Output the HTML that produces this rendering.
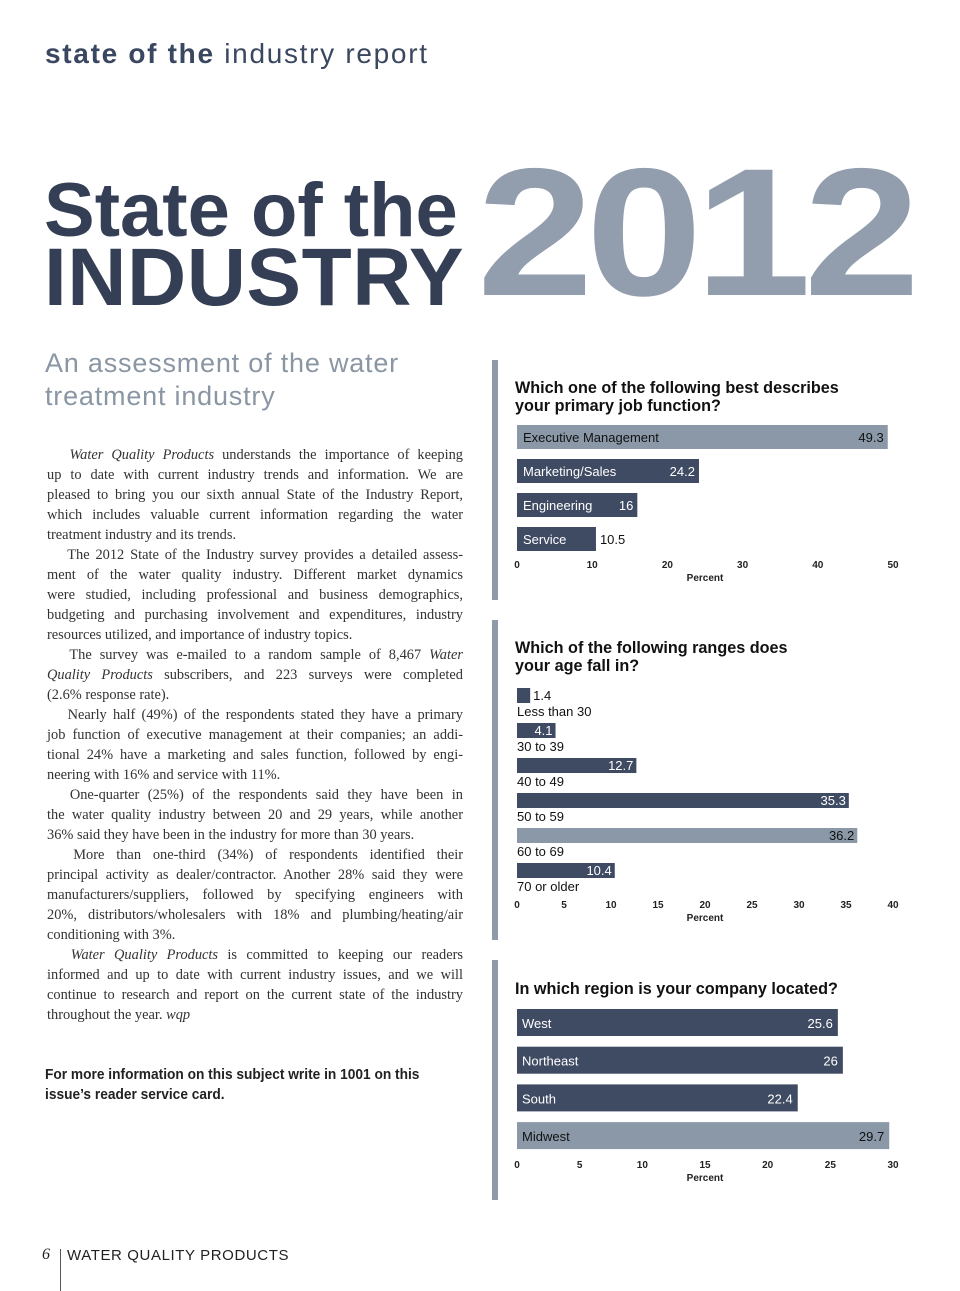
<!DOCTYPE html>
<html><head><meta charset="utf-8">
<style>
*{margin:0;padding:0;box-sizing:border-box}
body{width:960px;height:1291px;position:relative;background:#fff;overflow:hidden;font-family:"Liberation Sans",sans-serif;color:#222}
.abs{position:absolute;white-space:nowrap}
.bl{position:absolute;left:47px;width:416px;font-family:"Liberation Serif",serif;font-size:14.4px;color:#333;white-space:nowrap;line-height:20px}
.j{text-align:justify;text-align-last:justify}
.vbar{position:absolute;left:492px;width:6px;background:#8e9aa8}
</style></head><body>
<div class="abs" style="left:45px;top:38px;font-size:28px;color:#3a4760;letter-spacing:1.7px"><b>state of the</b> industry report</div>
<div class="abs" style="left:44px;top:166px;font-size:76px;font-weight:bold;color:#343e55;line-height:90px">State of the</div>
<div class="abs" style="left:44px;top:230px;font-size:82px;font-weight:bold;color:#343e55;line-height:96px;letter-spacing:0.5px">INDUSTRY</div>
<div class="abs" style="left:477px;top:141px;font-size:182px;font-weight:bold;color:#929eae;line-height:1;letter-spacing:-6.5px;transform:scaleX(1.15);transform-origin:left">2012</div>
<div class="abs" style="left:45px;top:347px;font-size:27px;color:#8a96a3;line-height:33px;letter-spacing:0.8px">An assessment of the water<br>treatment industry</div>

<div id="body"></div>

<div class="abs" style="left:45px;top:1065px;font-size:15px;font-weight:bold;line-height:20px;color:#222;transform:scaleX(0.915);transform-origin:left">For more information on this subject write in 1001 on this<br>issue’s reader service card.</div>

<div class="abs" style="left:42px;top:1246px;font-family:'Liberation Serif',serif;font-style:italic;font-size:16px">6</div>
<div class="abs" style="left:60px;top:1249px;width:1px;height:42px;background:#555"></div>
<div class="abs" style="left:67px;top:1247px;font-size:15px;letter-spacing:0.6px;color:#222">WATER QUALITY PRODUCTS</div>

<div class="vbar" style="top:360px;height:240px"></div>
<div class="vbar" style="top:620px;height:320px"></div>
<div class="vbar" style="top:960px;height:240px"></div>

<svg id="charts" width="960" height="1291" style="position:absolute;left:0;top:0" font-family="Liberation Sans, sans-serif"></svg>

<script>
const jobCategories=["Executive Management","Marketing/Sales","Engineering","Service"];
const jobValues=[49.3,24.2,16,10.5];
const jobTicks=[0,10,20,30,40,50];
const ageCategories=["Less than 30","30 to 39","40 to 49","50 to 59","60 to 69","70 or older"];
const ageValues=[1.4,4.1,12.7,35.3,36.2,10.4];
const ageTicks=[0,5,10,15,20,25,30,35,40];
const regionCategories=["West","Northeast","South","Midwest"];
const regionValues=[25.6,26,22.4,29.7];
const regionTicks=[0,5,10,15,20,25,30];

const lines=[
 ["j","&emsp;&nbsp;<i>Water Quality Products</i> understands the importance of keeping"],
 ["j","up to date with current industry trends and information. We are"],
 ["j","pleased to bring you our sixth annual State of the Industry Report,"],
 ["j","which includes valuable current information regarding the water"],
 ["","treatment industry and its trends."],
 ["j","&emsp;&nbsp;The 2012 State of the Industry survey provides a detailed assess-"],
 ["j","ment of the water quality industry. Different market dynamics"],
 ["j","were studied, including professional and business demographics,"],
 ["j","budgeting and purchasing involvement and expenditures, industry"],
 ["","resources utilized, and importance of industry topics."],
 ["j","&emsp;&nbsp;The survey was e-mailed to a random sample of 8,467 <i>Water</i>"],
 ["j","<i>Quality Products</i> subscribers, and 223 surveys were completed"],
 ["","(2.6% response rate)."],
 ["j","&emsp;&nbsp;Nearly half (49%) of the respondents stated they have a primary"],
 ["j","job function of executive management at their companies; an addi-"],
 ["j","tional 24% have a marketing and sales function, followed by engi-"],
 ["","neering with 16% and service with 11%."],
 ["j","&emsp;&nbsp;One-quarter (25%) of the respondents said they have been in"],
 ["j","the water quality industry between 20 and 29 years, while another"],
 ["","36% said they have been in the industry for more than 30 years."],
 ["j","&emsp;&nbsp;More than one-third (34%) of respondents identified their"],
 ["j","principal activity as dealer/contractor. Another 28% said they were"],
 ["j","manufacturers/suppliers, followed by specifying engineers with"],
 ["j","20%, distributors/wholesalers with 18% and plumbing/heating/air"],
 ["","conditioning with 3%."],
 ["j","&emsp;&nbsp;<i>Water Quality Products</i> is committed to keeping our readers"],
 ["j","informed and up to date with current industry issues, and we will"],
 ["j","continue to research and report on the current state of the industry"],
 ["","throughout the year. <i>wqp</i>"]
];
const bodyEl=document.getElementById('body');
lines.forEach((l,i)=>{
  const d=document.createElement('div');
  d.className='bl '+l[0];
  d.style.top=(445+i*20)+'px';
  d.innerHTML=l[1];
  
  
  bodyEl.appendChild(d);
});

const svg=document.getElementById('charts');
const NS='http://www.w3.org/2000/svg';
const DARK='#3f4a63', LIGHT='#8a98a8';
function mk(tag,attrs,txt){const e=document.createElementNS(NS,tag);for(const k in attrs)e.setAttribute(k,attrs[k]);if(txt!==undefined)e.textContent=txt;svg.appendChild(e);return e;}

function title(lines,y){lines.forEach((t,i)=>{const e=mk('text',{x:515,y:y+i*18,'font-size':16.2,'font-weight':'bold',fill:'#111'},t);

});}

function axis(ticks,x0,x1,yTick,yLab){
  const max=ticks[ticks.length-1];
  ticks.forEach(t=>{const e=mk('text',{x:x0+(x1-x0)*t/max,y:yTick,'font-size':10,'font-weight':'bold','text-anchor':'middle',fill:'#222'},t);
  
  });
  const p=mk('text',{x:(x0+x1)/2,y:yLab,'font-size':10,'font-weight':'bold','text-anchor':'middle',fill:'#222'},'Percent');
  
  
}

// Chart 1
title(["Which one of the following best describes","your primary job function?"],393);
(function(){const x0=517,x1=893,max=jobTicks[jobTicks.length-1];const sx=v=>(x1-x0)*v/max;
jobCategories.forEach((c,i)=>{const y=425+i*34,w=sx(jobValues[i]),light=i===0;
 const r=mk('rect',{x:x0,y:y,width:w,height:24,fill:light?LIGHT:DARK});
 
 
 const t=mk('text',{x:x0+6,y:y+17,'font-size':13,fill:light?'#111':'#fff'},c);
 
 
 const txtW=c.length*7.2+40;
 const inside=w>txtW;
 const v=mk('text',{x:inside?x0+w-4:x0+w+4,y:y+17,'font-size':13,'text-anchor':inside?'end':'start',fill:inside&&!light?'#fff':'#111'},jobValues[i]);
 
 
});
axis(jobTicks,x0,x1,568,581);})();

// Chart 2
title(["Which of the following ranges does","your age fall in?"],653);
(function(){const x0=517,x1=893,max=ageTicks[ageTicks.length-1];const sx=v=>(x1-x0)*v/max;
const maxI=ageValues.indexOf(Math.max(...ageValues));
ageCategories.forEach((c,i)=>{const y=688+i*35,w=sx(ageValues[i]),light=i===maxI;
 const r=mk('rect',{x:x0,y:y,width:w,height:15,fill:light?LIGHT:DARK});
 
 
 const inside=w>30;
 const v=mk('text',{x:inside?x0+w-3:x0+w+3,y:y+12,'font-size':13,'text-anchor':inside?'end':'start',fill:inside&&!light?'#fff':'#111'},ageValues[i]);
 
 
 const t=mk('text',{x:x0,y:y+28,'font-size':13,fill:'#111'},c);
 
 
});
axis(ageTicks,x0,x1,908,921);})();

// Chart 3
title(["In which region is your company located?"],994);
(function(){const x0=517,x1=893,max=regionTicks[regionTicks.length-1];const sx=v=>(x1-x0)*v/max;
const maxI=regionValues.indexOf(Math.max(...regionValues));
regionCategories.forEach((c,i)=>{const y=1009+i*37.7,w=sx(regionValues[i]),light=i===maxI;
 const r=mk('rect',{x:x0,y:y,width:w,height:27,fill:light?LIGHT:DARK});
 
 
 const t=mk('text',{x:x0+5,y:y+19,'font-size':13,fill:light?'#111':'#fff'},c);
 
 
 const v=mk('text',{x:x0+w-5,y:y+19,'font-size':13,'text-anchor':'end',fill:light?'#111':'#fff'},regionValues[i]);
 
 
});
axis(regionTicks,x0,x1,1168,1181);})();
</script>
</body></html>
